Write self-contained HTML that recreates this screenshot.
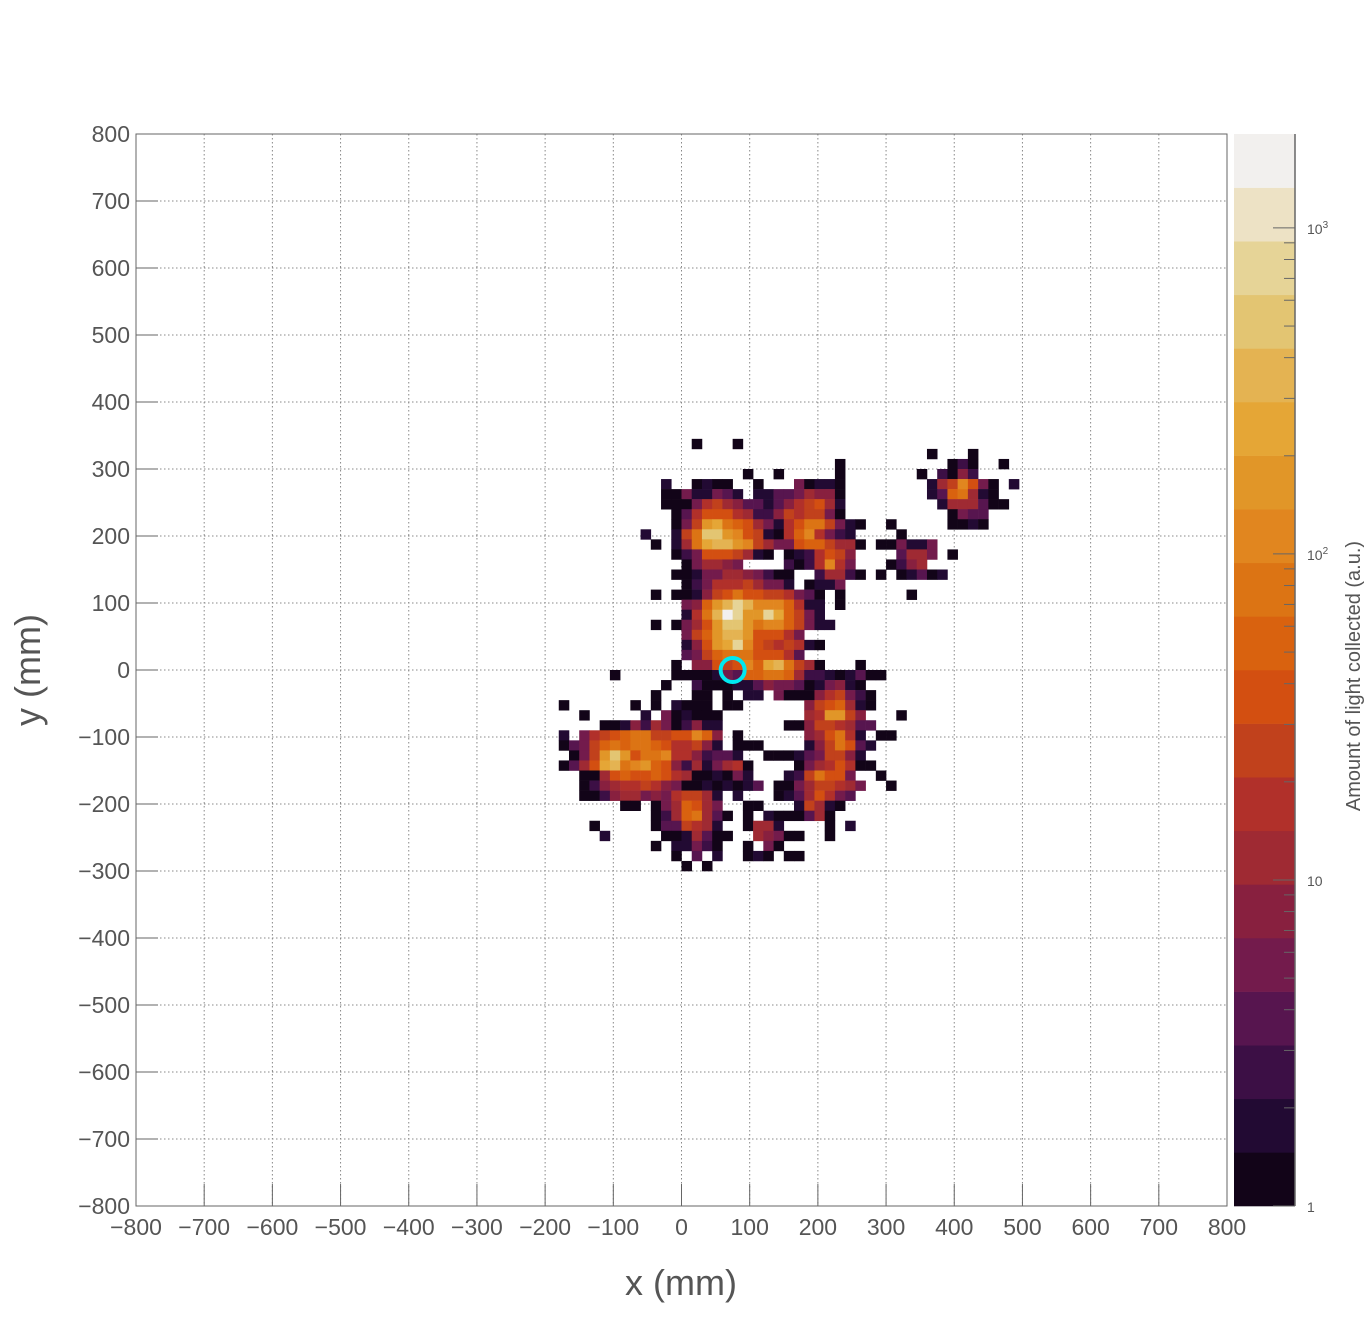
<!DOCTYPE html>
<html><head><meta charset="utf-8"><style>
html,body{margin:0;padding:0;background:#fff;}
svg{display:block;font-family:"Liberation Sans",sans-serif;}
</style></head><body>
<svg id="chart" width="1364" height="1340" viewBox="0 0 1364 1340" xmlns="http://www.w3.org/2000/svg">
<rect x="0" y="0" width="1364" height="1340" fill="#fff"/>
<g id="grid"></g>
<g id="cells"></g>
<g id="axes"></g>
<g id="cbar"></g>
<text x="681" y="1295" text-anchor="middle" font-size="36" fill="#555">x (mm)</text>
<text transform="translate(40,670) rotate(-90)" text-anchor="middle" font-size="36" fill="#555">y (mm)</text>
<text transform="translate(1360,676) rotate(-90)" text-anchor="middle" font-size="20" fill="#555">Amount of light collected (a.u.)</text>
</svg>
<script>
// ---- data ----
const binSize = 15;
const levelValues = [1.2,2,3,4.3,6.2,8.7,13,19,28,38,58,85,125,180,260,380,550,800,1150,1700];
const levelChars = "0123456789abcdefghij";
const rowY = [22,21,20,19,18,17,16,15,14,13,12,11,10,9,8,7,6,5,4,3,2,1,0,-1,-2,-3,-4,-5,-6,-7,-8,-9,-10,-11,-12,-13,-14,-15,-16,-17,-18,-19,-20];
const rowCells = [
"1:0 5:0",
"24:0 28:0",
"15:0 26:0 27:2 28:0 31:0",
"6:0 9:0 15:0 23:0 25:2 26:0 27:5 28:2",
"-2:1 1:0 2:1 3:0 4:0 7:0 11:4 12:0 13:1 14:1 15:0 24:1 25:6 26:8 27:c 28:9 29:4 30:0 32:1",
"-2:0 -1:0 0:4 1:1 2:1 3:4 4:3 5:1 7:1 8:1 9:3 10:3 11:4 12:6 13:5 14:5 15:0 24:1 25:3 26:a 27:b 28:6 29:1 30:0",
"-2:0 -1:0 0:0 1:4 2:7 3:8 4:6 5:5 6:3 7:3 8:1 9:3 10:5 11:7 12:8 13:9 14:6 15:1 25:1 26:6 27:6 28:6 29:3 30:0 31:0",
"-1:0 0:3 1:7 2:9 3:9 4:9 5:7 6:6 7:2 8:2 9:5 10:8 11:7 12:8 13:8 14:4 15:0 26:0 27:4 28:3 29:3",
"-1:0 0:4 1:8 2:d 3:e 4:b 5:a 6:9 7:6 8:4 9:1 10:7 11:9 12:b 13:b 14:8 15:4 16:1 17:0 20:0 26:0 27:0 28:1 29:0",
"-4:1 -1:1 0:8 1:b 2:g 3:g 4:d 5:c 6:9 7:8 8:1 9:0 10:7 11:a 12:c 13:7 14:4 15:2 16:1 21:0",
"-3:0 -1:1 0:6 1:b 2:e 3:f 4:f 5:d 6:c 7:8 8:6 9:4 10:4 11:9 12:a 13:a 14:8 15:6 16:6 17:0 19:0 20:0 21:4 22:1 23:1 24:4",
"-1:0 0:2 1:4 2:9 3:9 4:9 5:8 6:6 7:1 8:0 10:0 11:1 12:2 13:7 14:9 15:8 16:5 21:3 22:6 23:6 24:4 26:0",
"0:0 1:4 2:6 3:6 4:5 5:4 10:2 11:0 12:2 13:7 14:c 15:7 16:4 20:0 21:2 22:5 23:6",
"-1:0 0:0 1:1 2:4 3:4 4:6 5:6 6:5 7:4 8:2 9:0 10:0 13:2 14:6 15:6 16:2 17:0 19:0 21:0 22:1 23:3 24:0 25:1",
"0:0 1:2 2:4 3:7 4:7 5:7 6:8 7:6 8:4 9:4 10:1 12:0 13:1 14:1 15:4",
"-3:0 -1:0 0:0 1:1 2:5 3:8 4:9 5:b 6:9 7:9 8:8 9:8 10:7 11:4 12:3 13:0 15:0 22:0",
"0:4 1:5 2:a 3:d 4:f 5:h 6:f 7:c 8:c 9:c 10:a 11:7 12:1 13:1 15:0",
"0:1 1:7 2:b 3:f 4:j 5:h 6:d 7:d 8:h 9:e 10:a 11:8 12:4 13:1",
"-3:0 -1:0 0:4 1:6 2:9 3:d 4:g 5:g 6:d 7:b 8:c 9:c 10:a 11:8 12:4 13:1 14:1",
"0:4 1:8 2:a 3:d 4:f 5:f 6:d 7:9 8:9 9:9 10:7 11:4",
"0:1 1:5 2:9 3:d 4:e 5:h 6:c 7:9 8:8 9:7 10:8 11:7 12:1 13:0",
"0:3 1:4 2:8 3:a 4:b 5:b 6:b 7:9 8:9 9:9 10:7 11:3",
"-1:0 1:5 2:5 3:9 4:8 5:9 6:c 7:a 8:e 9:f 10:b 11:8 12:6 13:0 17:0",
"-7:0 -1:0 0:0 1:0 2:0 3:1 4:4 5:3 6:a 7:a 8:b 9:b 10:a 11:6 12:2 13:2 14:1 15:0 16:1 17:3 18:0 19:0",
"-2:0 1:2 2:0 3:0 4:0 5:1 6:1 7:3 8:5 9:4 10:4 11:3 12:0 13:1 14:4 15:5 16:1 17:0",
"-3:0 1:0 2:0 4:0 6:1 7:1 9:4 10:0 11:0 12:0 13:5 14:7 15:8 16:4 17:2 18:0",
"-12:0 -5:0 -3:0 -1:1 0:0 1:0 2:0 4:0 5:0 12:5 13:8 14:9 15:a 16:6 17:1 18:0",
"-10:0 -4:1 -2:4 -1:0 0:1 1:0 2:0 3:0 12:6 13:7 14:d 15:d 16:8 17:5 21:0",
"-8:0 -7:0 -6:1 -5:5 -4:2 -3:6 -2:4 -1:0 0:2 1:5 2:1 3:1 10:0 11:0 12:5 13:8 14:8 15:7 16:6 17:3 18:3",
"-12:1 -10:4 -9:7 -8:8 -7:9 -6:a -5:b -4:b -3:8 -2:8 -1:9 0:9 1:c 2:a 3:5 5:0 12:5 13:6 14:9 15:b 16:7 17:1 19:0 20:0",
"-12:0 -11:3 -10:4 -9:8 -8:a -7:b -6:a -5:b -4:b -3:a -2:9 -1:7 0:7 1:8 2:5 3:1 5:0 6:0 7:0 12:1 13:5 14:8 15:b 16:9 17:3 18:1",
"-11:0 -10:4 -9:8 -8:d -7:g -6:d -5:9 -4:b -3:b -2:c -1:7 0:7 1:5 2:2 3:3 4:3 5:1 8:0 9:0 10:0 11:1 12:3 13:4 14:8 15:8 16:5 17:1",
"-12:0 -11:3 -10:6 -9:9 -8:e -7:f -6:b -5:c -4:d -3:a -2:9 -1:5 0:2 1:6 2:1 3:4 4:6 5:7 6:0 11:0 12:4 13:6 14:7 15:9 16:7 17:0 18:0",
"-10:0 -9:0 -8:6 -7:9 -6:a -5:9 -4:9 -3:a -2:9 -1:7 0:6 1:0 2:0 3:1 4:0 5:4 6:1 10:1 11:2 12:8 13:b 14:9 15:9 16:4 19:0",
"-10:0 -9:2 -8:5 -7:6 -6:7 -5:7 -4:8 -3:7 -2:5 -1:4 0:0 1:0 2:1 3:0 4:1 5:0 6:1 7:3 9:0 10:0 11:4 12:6 13:8 14:8 15:7 16:6 17:4 20:0",
"-10:0 -9:0 -8:2 -7:5 -6:6 -5:6 -4:4 -3:5 -2:4 -1:7 0:8 1:8 2:6 3:1 5:1 9:0 10:1 11:3 12:6 13:9 14:7 15:4 16:3",
"-6:0 -5:0 -3:0 -2:4 -1:6 0:a 1:9 2:6 3:4 6:0 7:0 11:1 12:8 13:6 14:1 15:0",
"-3:0 -2:2 -1:6 0:a 1:b 2:6 3:3 4:0 6:0 8:1 9:0 10:0 11:0 12:3 13:6 14:0",
"-9:0 -3:0 -2:3 -1:3 0:8 1:7 2:6 3:1 6:0 7:6 8:6 9:1 14:0 16:1",
"-8:1 -2:0 -1:0 0:1 1:6 2:3 3:0 4:0 7:6 8:5 9:4 10:0 11:0 14:0",
"-3:0 -1:1 0:1 1:4 2:2 3:0 6:0 8:4 9:0",
"-1:0 1:3 3:1 6:0 7:1 8:0 10:0 11:0",
"0:0 2:0"
];
const xTicks = [-800,-700,-600,-500,-400,-300,-200,-100,0,100,200,300,400,500,600,700,800];
const yTicks = [-800,-700,-600,-500,-400,-300,-200,-100,0,100,200,300,400,500,600,700,800];
const zMax = 1941;
const zMajor = [1,10,100,1000];
const zMajorBase = ["1","10","10","10"];
const zMajorExp = ["","","2","3"];
const palette = ["#120418","#220a33","#3c0f45","#57154f","#731b4c","#88203f","#9f2a33","#b1302a","#c1411c","#d34f11","#d9620f","#dc7414","#e1861f","#e19628","#e5a636","#e4b352","#e3c572","#e6d497","#ede2c5","#f2f0ee"];
const marker = {x:75, y:0};

// ---- axes ----
const L=136,R=1227,T=134,B=1206;
const sx = v => L + (v+800)*(R-L)/1600;
const sy = v => B - (v+800)*(B-T)/1600;
const CB={x0:1234,x1:1295};
const cy = v => B - Math.log10(v)/Math.log10(zMax)*(B-T);
const colorOf = v => palette[Math.max(0,Math.min(19,Math.floor(Math.log10(v)/Math.log10(zMax)*20)))];
const NS="http://www.w3.org/2000/svg";
function mk(tag, attrs, parent){const e=document.createElementNS(NS,tag);for(const k in attrs)e.setAttribute(k,attrs[k]);parent.appendChild(e);return e;}

const grid=document.getElementById('grid');
xTicks.forEach(t=>{ if(t>-800&&t<800){
  const l=mk('line',{x1:sx(t),x2:sx(t),y1:T,y2:B,stroke:'#888','stroke-width':1,'stroke-dasharray':'1.5,2.5'},grid);
  
  }});
yTicks.forEach(t=>{ if(t>-800&&t<800){
  const l=mk('line',{x1:L,x2:R,y1:sy(t),y2:sy(t),stroke:'#888','stroke-width':1,'stroke-dasharray':'1.5,2.5'},grid);
  
  }});

const cells=document.getElementById('cells');
rowY.forEach((j,ri)=>{
  rowCells[ri].split(' ').forEach(p=>{
    if(!p) return;
    const [is,lc]=p.split(':'); const i=+is;
    const v=levelValues[levelChars.indexOf(lc)];
    const x0=sx(i*binSize), x1=sx((i+1)*binSize), y0=sy((j+1)*binSize), y1=sy(j*binSize);
    const r=mk('rect',{x:x0,y:y0,width:x1-x0+0.3,height:y1-y0+0.3,fill:colorOf(v)},cells);
    
    
  });
});

const axes=document.getElementById('axes');
const fr=mk('rect',{x:L,y:T,width:R-L,height:B-T,fill:'none',stroke:'#666','stroke-width':1},axes);


xTicks.forEach(t=>{
  const tk=mk('line',{x1:sx(t),x2:sx(t),y1:B,y2:B-22,stroke:'#666','stroke-width':1},axes);
  
  
  const tx=mk('text',{x:sx(t),y:B+29,'text-anchor':'middle','font-size':23,fill:'#555'},axes);
  tx.textContent=(t<0?'\u2212'+(-t):''+t);
  
  
});
yTicks.forEach(t=>{
  const tk=mk('line',{x1:L,x2:L+22,y1:sy(t),y2:sy(t),stroke:'#666','stroke-width':1},axes);
  
  
  const tx=mk('text',{x:L-6,y:sy(t)+8,'text-anchor':'end','font-size':23,fill:'#555'},axes);
  tx.textContent=(t<0?'\u2212'+(-t):''+t);
  
  
});
const c=mk('circle',{cx:sx(marker.x),cy:sy(marker.y),r:12,fill:'none',stroke:'#00e8f0','stroke-width':4},axes);



const cbar=document.getElementById('cbar');
for(let k=0;k<20;k++){
  const y0=B-(k+1)*(B-T)/20, y1=B-k*(B-T)/20;
  const r=mk('rect',{x:CB.x0,y:y0,width:CB.x1-CB.x0,height:y1-y0+0.3,fill:palette[k]},cbar);
  
  
}
const ax=mk('line',{x1:CB.x1,x2:CB.x1,y1:T,y2:B,stroke:'#666','stroke-width':1.5},cbar);


for(let d=1; d<=1000; d*=10){
  for(let m=1;m<10;m++){
    const v=d*m; if(v>zMax) break;
    const len = m===1?22:11;
    const tk=mk('line',{x1:CB.x1-len,x2:CB.x1,y1:cy(v),y2:cy(v),stroke:'#666','stroke-width':1},cbar);
    
    
  }
}
zMajor.forEach((v,k)=>{
  const tx=mk('text',{x:1307,y:cy(v)+6,'font-size':14,fill:'#555'},cbar);
  tx.textContent=zMajorBase[k];
  if(zMajorExp[k]){
    const s=mk('tspan',{dy:-6,'font-size':10},tx);
    s.textContent=zMajorExp[k];
  }
  
  
});
</script>
</body></html>
